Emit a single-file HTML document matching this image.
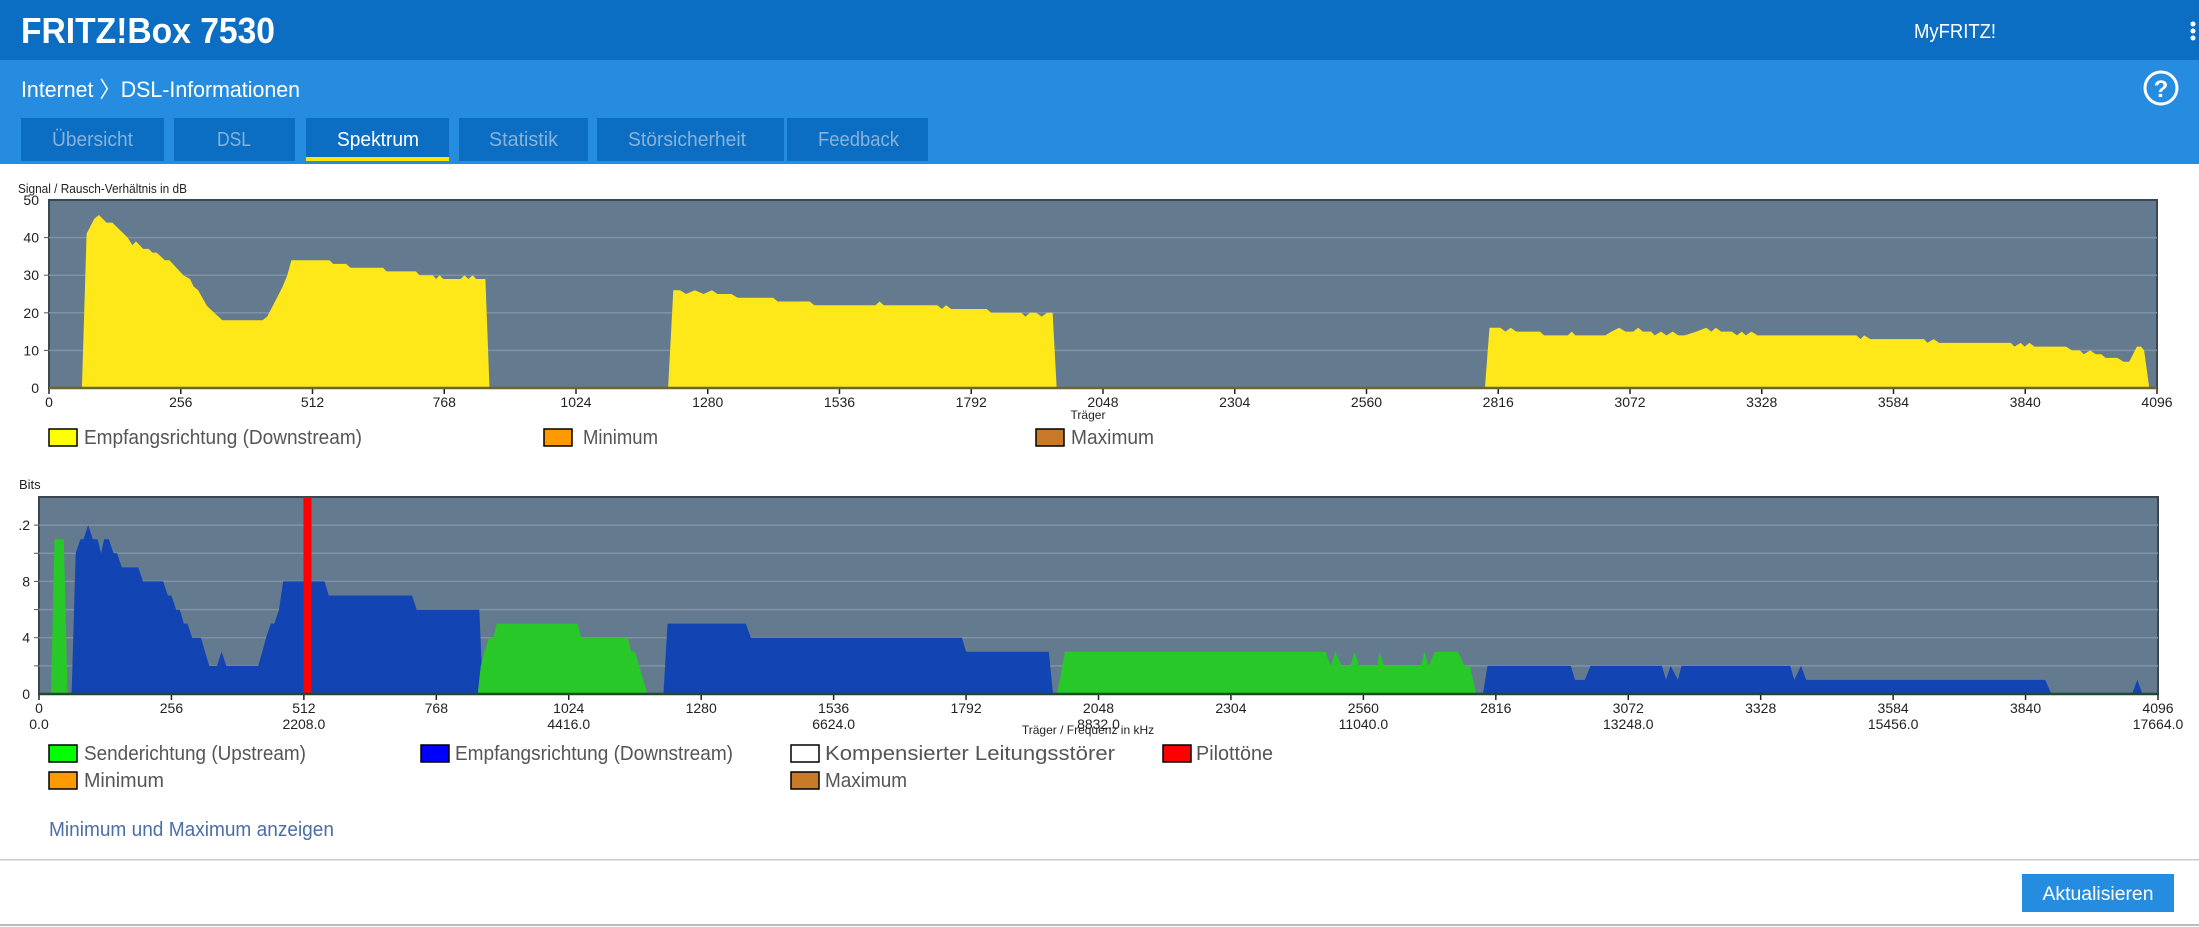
<!DOCTYPE html>
<html><head><meta charset="utf-8"><style>
html,body{margin:0;padding:0;width:2199px;height:927px;overflow:hidden;background:#fff;font-family:"Liberation Sans",sans-serif}
svg{display:block}
text{font-family:"Liberation Sans",sans-serif}
</style></head><body>
<svg id="page" width="2199" height="927" viewBox="0 0 2199 927">
<rect x="0" y="0" width="2199" height="60" fill="#0b6ec2"/>
<text x="21" y="43" font-size="36" font-weight="bold" fill="#fff" textLength="254" lengthAdjust="spacingAndGlyphs">FRITZ!Box 7530</text>
<text x="1914" y="38" font-size="20" fill="#fff" textLength="82" lengthAdjust="spacingAndGlyphs">MyFRITZ!</text>
<g fill="#fff"><circle cx="2193" cy="24" r="2.5"/><circle cx="2193" cy="31" r="2.5"/><circle cx="2193" cy="38" r="2.5"/></g>
<rect x="0" y="60" width="2199" height="104" fill="#268ce0"/>
<text x="21" y="97" font-size="22" fill="#fff" textLength="279" lengthAdjust="spacingAndGlyphs">Internet 〉DSL-Informationen</text>
<g><circle cx="2161" cy="88" r="16" fill="none" stroke="#fff" stroke-width="3"/><text x="2161" y="97" font-size="24" font-weight="bold" fill="#fff" text-anchor="middle">?</text></g>
<g><rect x="21" y="118" width="143" height="43" fill="#0b6ec2"/><text x="52" y="146" font-size="20" fill="#86b2dc" textLength="81" lengthAdjust="spacingAndGlyphs">Übersicht</text></g>
<g><rect x="174" y="118" width="121" height="43" fill="#0b6ec2"/><text x="217" y="146" font-size="20" fill="#86b2dc" textLength="34" lengthAdjust="spacingAndGlyphs">DSL</text></g>
<g><rect x="306" y="118" width="143" height="43" fill="#0b6ec2"/><rect x="306" y="157" width="143" height="4" fill="#ffe600"/><text x="337" y="146" font-size="20" fill="#fff" textLength="82" lengthAdjust="spacingAndGlyphs">Spektrum</text></g>
<g><rect x="459" y="118" width="129" height="43" fill="#0b6ec2"/><text x="489" y="146" font-size="20" fill="#86b2dc" textLength="69" lengthAdjust="spacingAndGlyphs">Statistik</text></g>
<g><rect x="597" y="118" width="187" height="43" fill="#0b6ec2"/><text x="628" y="146" font-size="20" fill="#86b2dc" textLength="118" lengthAdjust="spacingAndGlyphs">Störsicherheit</text></g>
<g><rect x="787" y="118" width="141" height="43" fill="#0b6ec2"/><text x="818" y="146" font-size="20" fill="#86b2dc" textLength="81" lengthAdjust="spacingAndGlyphs">Feedback</text></g>

<text x="18" y="193" font-size="13" fill="#222" textLength="169" lengthAdjust="spacingAndGlyphs">Signal / Rausch-Verhältnis in dB</text>
<g id="snr-chart"></g>
<text x="1088" y="419" font-size="12" fill="#222" text-anchor="middle">Träger</text>

<g><rect x="49" y="429" width="28" height="17" fill="#ffff00" stroke="#000" stroke-width="1.5"/><text x="84" y="444" font-size="20" fill="#555" textLength="278" lengthAdjust="spacingAndGlyphs">Empfangsrichtung (Downstream)</text></g>
<g><rect x="544" y="429" width="28" height="17" fill="#ff9900" stroke="#000" stroke-width="1.5"/><text x="583" y="444" font-size="20" fill="#555" textLength="75" lengthAdjust="spacingAndGlyphs">Minimum</text></g>
<g><rect x="1036" y="429" width="28" height="17" fill="#c87a28" stroke="#000" stroke-width="1.5"/><text x="1071" y="444" font-size="20" fill="#555" textLength="83" lengthAdjust="spacingAndGlyphs">Maximum</text></g>

<text x="19" y="489" font-size="13" fill="#222">Bits</text>
<g id="bits-chart"></g>
<text x="1088" y="734" font-size="12" fill="#222" text-anchor="middle">Träger / Frequenz in kHz</text>

<g><rect x="49" y="745" width="28" height="17" fill="#00ff00" stroke="#000" stroke-width="1.5"/><text x="84" y="760" font-size="20" fill="#555" textLength="222" lengthAdjust="spacingAndGlyphs">Senderichtung (Upstream)</text></g>
<g><rect x="421" y="745" width="28" height="17" fill="#0000ff" stroke="#000" stroke-width="1.5"/><text x="455" y="760" font-size="20" fill="#555" textLength="278" lengthAdjust="spacingAndGlyphs">Empfangsrichtung (Downstream)</text></g>
<g><rect x="791" y="745" width="28" height="17" fill="#fff" stroke="#000" stroke-width="1.5"/><text x="825" y="760" font-size="20" fill="#555" textLength="290" lengthAdjust="spacingAndGlyphs">Kompensierter Leitungsstörer</text></g>
<g><rect x="1163" y="745" width="28" height="17" fill="#ff0000" stroke="#000" stroke-width="1.5"/><text x="1196" y="760" font-size="20" fill="#555" textLength="77" lengthAdjust="spacingAndGlyphs">Pilottöne</text></g>
<g><rect x="49" y="772" width="28" height="17" fill="#ff9900" stroke="#000" stroke-width="1.5"/><text x="84" y="787" font-size="20" fill="#555" textLength="80" lengthAdjust="spacingAndGlyphs">Minimum</text></g>
<g><rect x="791" y="772" width="28" height="17" fill="#c87a28" stroke="#000" stroke-width="1.5"/><text x="825" y="787" font-size="20" fill="#555" textLength="82" lengthAdjust="spacingAndGlyphs">Maximum</text></g>

<text x="49" y="836" font-size="20" fill="#4a6ea5" textLength="285" lengthAdjust="spacingAndGlyphs">Minimum und Maximum anzeigen</text>
<rect x="0" y="859" width="2199" height="1.5" fill="#ccc"/>
<g><rect x="2022" y="874" width="152" height="38" fill="#268ce0"/><text x="2098" y="900" font-size="19" fill="#fff" text-anchor="middle" textLength="111" lengthAdjust="spacingAndGlyphs">Aktualisieren</text></g>
<rect x="0" y="924" width="2199" height="2" fill="#bbb"/>
</svg>
<script>
const snrCarriers=[64,73,88,97,112,123,153,162,169,183,194,201,209,225,234,261,274,281,290,306,313,337,415,424,443,454,463,471,545,552,577,586,649,656,713,720,746,752,759,766,800,807,815,823,830,848,856,
1203,1213,1226,1238,1255,1272,1288,1299,1326,1338,1407,1416,1478,1487,1606,1614,1622,1726,1735,1743,1753,1822,1831,1889,1897,1906,1918,1929,1939,1950,1958,
2790,2799,2820,2830,2840,2851,2897,2905,2951,2959,2966,3024,3036,3051,3063,3078,3088,3097,3113,3120,3132,3143,3155,3166,3178,3201,3220,3230,3239,3249,3270,3280,3289,3297,3308,3320,3512,3520,3527,3539,3643,3650,3662,3673,3812,3819,3831,3839,3848,3858,3919,3931,3946,3954,3966,3977,3988,3996,4019,4031,4042,4057,4065,4071,4081];
const snrValues=[0,41,45,46,44,44,40,38,39,37,37,36,36,34,34,30,29,27,26,22,21,18,18,19,24,27,30,34,34,33,33,32,32,31,31,30,30,29,30,29,29,30,29,30,29,29,0,
0,26,26,25,26,25,26,25,25,24,24,23,23,22,22,23,22,22,21,22,21,21,20,20,19,20,20,19,20,20,0,
0,16,16,15,16,15,15,14,14,15,14,14,15,16,15,15,16,15,15,14,15,14,15,14,14,15,16,15,16,15,15,14,15,14,15,14,14,13,14,13,13,12,13,12,12,11,12,11,12,11,11,10,10,9,10,9,9,8,8,7,7,11,11,10,0];
const upCarriers=[23,30,48,55, 848,854,861,870,878,885,1041,1048,1138,1145,1152,1176, 1968,1983,2487,2497,2506,2518,2535,2543,2552,2587,2591,2600,2671,2678,2686,2698,2743,2755,2766,2778];
const upValues=[0,11,11,0, 0,2,3,4,4,5,5,4,4,3,3,0, 0,3,3,2,3,2,2,3,2,2,3,2,2,3,2,3,3,2,2,0];
const downCarriers=[63,71,80,86,95,104,113,120,126,135,144,151,160,192,201,240,249,256,265,272,280,287,296,313,329,344,353,362,424,439,448,455,464,472,552,560,721,730,851,858,
1207,1215,1366,1376,1784,1792,1952,1960,
2791,2800,2961,2969,2988,2999,3137,3145,3154,3168,3175,3385,3393,3406,3416,3878,3890,4046,4056,4066];
const downValues=[0,10,11,11,12,11,11,10,11,11,10,10,9,9,8,8,7,7,6,6,5,5,4,4,2,2,3,2,2,4,5,5,6,8,8,7,7,6,6,0,
0,5,5,4,4,3,3,0,
0,2,2,1,1,2,2,1,2,1,2,2,1,2,1,1,0,0,1,0];
const pilotCarriers=[519];
const carrierTicks=[0,256,512,768,1024,1280,1536,1792,2048,2304,2560,2816,3072,3328,3584,3840,4096];
const freqTicks=[0,512,1024,1536,2048,2560,3072,3584,4096];
const freqLabels=["0.0","2208.0","4416.0","6624.0","8832.0","11040.0","13248.0","15456.0","17664.0"];
const snrYTicks=[0,10,20,30,40,50];
const bitsYTicks=[0,4,8,12];
const bitsYLabels=["0","4","8",".2"];

const NS="http://www.w3.org/2000/svg";
const CMAX=4096;
function mk(tag,attrs,parent){const e=document.createElementNS(NS,tag);for(const k in attrs)e.setAttribute(k,attrs[k]);parent.appendChild(e);return e;}

function drawChart(g,L,R,top,bottom,ymax,gridStep,yTicks,yLabels,labelX){
  const yS=v=>bottom-v/ymax*(bottom-top);
  const xS=c=>L+c/CMAX*(R-L);
  const bg=mk('rect',{x:L,y:top,width:R-L,height:bottom-top,fill:'#647a8f',stroke:'#3c4650','stroke-width':2},g);
  
  
  for(let v=gridStep;v<ymax;v+=gridStep){
    const gl=mk('line',{x1:L,x2:R,y1:yS(v),y2:yS(v),stroke:'#7f93a6','stroke-width':1.5},g);
    
    
    const tk=mk('line',{x1:L-5,x2:L,y1:yS(v),y2:yS(v),stroke:'#555'},g);
    
    
  }
  yTicks.forEach((v,i)=>{
    const t=mk('text',{x:labelX,y:yS(v)+5,'font-size':14,fill:'#222','text-anchor':'end'},g);
    t.textContent=yLabels[i];
    
    
  });
  carrierTicks.forEach(c=>{
    const tk=mk('line',{x1:xS(c),x2:xS(c),y1:bottom,y2:bottom+6,stroke:'#222','stroke-width':1.5},g);
    
    
    const t=mk('text',{x:xS(c),y:bottom+19,'font-size':14,fill:'#222','text-anchor':'middle'},g);
    t.textContent=c;
    
    
  });
  return {xS,yS};
}
function area(g,cs,vs,s,fill,name){
  let d='';cs.forEach((c,i)=>{d+=(i?'L':'M')+s.xS(c).toFixed(1)+','+s.yS(vs[i]).toFixed(1);});
  const p=mk('path',{d:d+'Z',fill:fill},g);
  
  
}
// SNR chart
const g1=document.getElementById('snr-chart');
const s1=drawChart(g1,49,2157,200,388,50,10,snrYTicks,snrYTicks.map(String),39);
area(g1,snrCarriers,snrValues,s1,'#ffe81a','snr-downstream-area');
const ax1=mk('line',{x1:49,x2:2157,y1:388,y2:388,stroke:'#6b6530','stroke-width':2.5},g1);


// Bits chart
const g2=document.getElementById('bits-chart');
const s2=drawChart(g2,39,2158,497,694,14,2,bitsYTicks,bitsYLabels,30);
area(g2,downCarriers,downValues,s2,'#1244b3','bits-downstream-area');
area(g2,upCarriers,upValues,s2,'#28c828','bits-upstream-area');
pilotCarriers.forEach(c=>{
  const r=mk('rect',{x:s2.xS(c)-4,y:497,width:8,height:197,fill:'#ff0000'},g2);
  
  
});
const ax2=mk('line',{x1:39,x2:2158,y1:694,y2:694,stroke:'#1f4a30','stroke-width':2.5},g2);


freqTicks.forEach((c,i)=>{
  const t=mk('text',{x:s2.xS(c),y:729,'font-size':14,fill:'#222','text-anchor':'middle'},g2);
  t.textContent=freqLabels[i];
  
  
});
</script>
</body></html>
